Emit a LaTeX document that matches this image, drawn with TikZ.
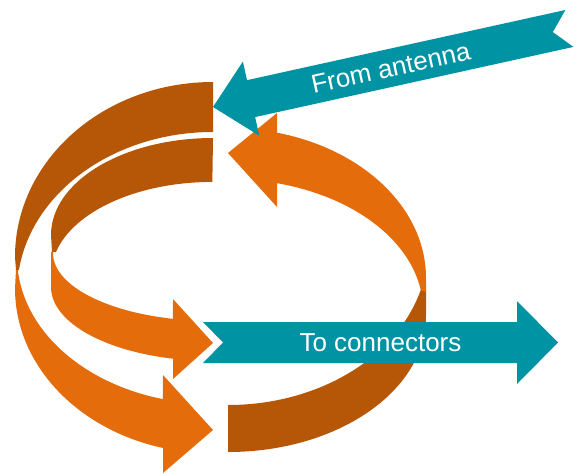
\documentclass[tikz,border=0pt]{standalone}
\usepackage{fontspec}
\setsansfont{Liberation Sans}
\usepackage{tikz}

\definecolor{ribbondark}{HTML}{B65708}
\definecolor{ribbonlight}{HTML}{E46C0A}
\definecolor{signalteal}{HTML}{0093A3}

\tikzset{
	ribbonback/.style={fill=ribbondark},
	ribbonfront/.style={fill=ribbonlight},
	banner/.style={fill=signalteal},
	bannerlabel/.style={text=white, inner sep=0pt, font=\sffamily\fontsize{26}{30}\selectfont}
}

\begin{document}
\begin{tikzpicture}[x=1pt, y=1pt]
	\useasboundingbox (0,0) rectangle (577,-474);
	% back halves of the three ribbons
	\fill [ribbonback] (213,-82) arc[start angle=90, end angle=180, x radius=198, y radius=175] -- (16,-270)
		-- (18.9,-270) arc[start angle=172.1, end angle=90, x radius=196, y radius=160] -- cycle;
	\fill [ribbonback] (213,-138) arc[start angle=90, end angle=180, x radius=162, y radius=97] -- (52,-252)
		-- (56,-252) arc[start angle=166.2, end angle=90, x radius=161, y radius=92] -- cycle;
	\fill [ribbonback] (228,-452) arc[start angle=270, end angle=360, x radius=198, y radius=136] -- (426,-290)
		-- (420.7,-290) arc[start angle=344.48, end angle=270, x radius=200, y radius=157] -- cycle;
	% front halves with their heads
	\fill [ribbonfront] (16,-270) -- (17.8,-270) arc[start angle=185.07, end angle=255.2, x radius=196, y radius=147]
		-- (163,-375) -- (213,-430) -- (163,-473) -- (163,-448)
		arc[start angle=255.37, end angle=180, x radius=198, y radius=165] -- cycle;
	\fill [ribbonfront] (53,-252) arc[start angle=179.16, end angle=255.52, x radius=160, y radius=68]
		-- (173,-299) -- (213,-343) -- (173,-379) -- (173,-358.7)
		arc[start angle=255.7, end angle=180, x radius=162, y radius=74] -- (51,-252) -- cycle;
	\fill [ribbonfront] (426,-292) -- (426,-278) arc[start angle=0, end angle=75.67, x radius=198, y radius=150]
		-- (277,-113) -- (228,-153) -- (277,-207) -- (277,-183.2)
		arc[start angle=75.45, end angle=8.78, x radius=195, y radius=131] -- cycle;
	% teal banners
	\fill [banner] (203,-322) -- (517,-322) -- (517,-301) -- (558,-342.5) -- (517,-384) -- (517,-363) -- (203,-363) -- (223,-342.5) -- cycle;
	\node [bannerlabel] (connectors) at (380.5,-342.5) {To connectors};
	\begin{scope}[shift={(213,-107)}, rotate=12.43]
		\fill [banner] (0,0) -- (39,38) -- (39,18.9) -- (365,18.9) -- (348,0) -- (365,-18.9) -- (39,-18.9) -- (39,-38) -- cycle;
		\node [bannerlabel, rotate=12.43] (antenna) at (182,0) {From antenna};
	\end{scope}
\end{tikzpicture}
\end{document}
